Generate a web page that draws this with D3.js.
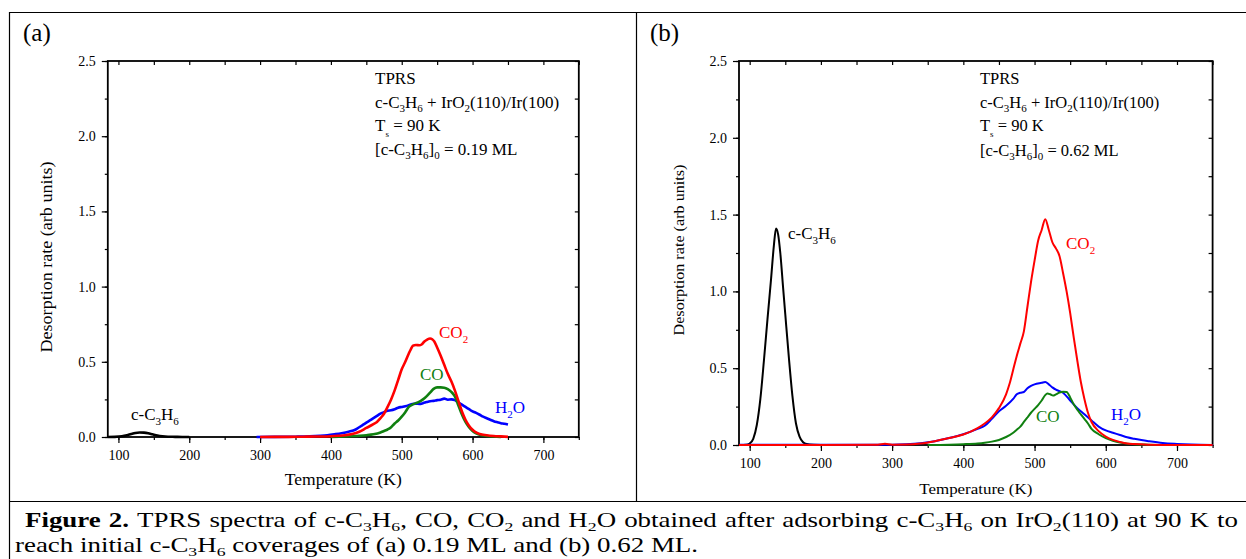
<!DOCTYPE html>
<html><head><meta charset="utf-8">
<script src="https://cdn.jsdelivr.net/npm/d3@7"></script>
<style>
body{margin:0;background:#fff;}
svg{display:block;}
text{font-family:"Liberation Serif","Times New Roman",serif;}
</style></head>
<body>
<svg id="c" width="1246" height="559"></svg>
<script>
// ---------------- DATA ----------------
const xTicksMajor = [100,200,300,400,500,600,700];
const xTicksMinor = [100,150,200,250,300,350,400,450,500,550,600,650,700,750];
const yTicksMajor = [0,0.5,1.0,1.5,2.0,2.5];
const yTicksMinor = [0,0.25,0.5,0.75,1.0,1.25,1.5,1.75,2.0,2.25,2.5];

// Panel (a): [T (K), rate]
const a_C3H6 = [[85,0],[95,0.001],[105,0.005],[112,0.012],[118,0.02],[124,0.027],[130,0.03],[136,0.029],[142,0.025],[148,0.018],[155,0.01],[162,0.005],[170,0.002],[180,0.001],[190,0],[200,0]];
const a_CO2 = [[300,0],[320,0.001],[340,0.001],[360,0.002],[380,0.003],[400,0.005],[410,0.008],[420,0.012],[430,0.02],[440,0.035],[450,0.06],[460,0.085],[465,0.1],[470,0.125],[475,0.155],[480,0.2],[485,0.25],[490,0.31],[495,0.38],[500,0.45],[505,0.5],[510,0.555],[513,0.585],[516,0.607],[520,0.612],[525,0.61],[528,0.615],[532,0.635],[536,0.648],[540,0.655],[543,0.65],[546,0.635],[550,0.595],[555,0.54],[560,0.48],[565,0.42],[570,0.37],[575,0.31],[580,0.24],[585,0.17],[590,0.115],[595,0.075],[600,0.048],[605,0.03],[610,0.02],[620,0.012],[630,0.007],[640,0.004],[650,0.001]];
const a_CO = [[400,0],[420,0.003],[440,0.008],[450,0.012],[460,0.018],[470,0.03],[475,0.04],[480,0.05],[485,0.065],[490,0.09],[495,0.11],[500,0.135],[505,0.165],[510,0.2],[515,0.215],[520,0.225],[525,0.235],[530,0.25],[535,0.27],[540,0.295],[545,0.32],[550,0.33],[555,0.33],[560,0.328],[565,0.318],[570,0.3],[575,0.27],[580,0.21],[585,0.15],[590,0.1],[595,0.065],[600,0.04],[605,0.025],[610,0.015],[620,0.007],[630,0.003],[640,0]];
const a_H2O = [[295,0],[320,0.001],[350,0.002],[370,0.004],[385,0.008],[395,0.012],[405,0.018],[415,0.025],[425,0.035],[435,0.05],[440,0.065],[445,0.08],[450,0.095],[455,0.11],[460,0.125],[465,0.14],[470,0.155],[475,0.165],[480,0.175],[485,0.178],[490,0.185],[495,0.195],[500,0.2],[505,0.205],[510,0.212],[515,0.22],[520,0.222],[525,0.22],[530,0.225],[535,0.232],[540,0.238],[545,0.24],[550,0.245],[555,0.248],[560,0.255],[565,0.248],[570,0.25],[575,0.245],[580,0.23],[585,0.215],[590,0.2],[595,0.185],[600,0.17],[605,0.16],[610,0.148],[615,0.135],[620,0.125],[625,0.115],[630,0.105],[635,0.098],[640,0.092],[645,0.088],[650,0.083]];

// Panel (b)
const b_C3H6 = [[85,0],[95,0.002],[100,0.01],[105,0.04],[110,0.13],[115,0.3],[120,0.55],[125,0.82],[130,1.08],[134,1.3],[137,1.41],[140,1.37],[143,1.25],[147,1.02],[150,0.85],[155,0.57],[160,0.32],[165,0.14],[170,0.055],[175,0.018],[180,0.006],[190,0.001],[200,0],[300,0]];
const b_CO2 = [[85,0],[200,0],[280,0.002],[290,0.008],[300,0.002],[320,0.003],[340,0.01],[360,0.025],[380,0.045],[400,0.068],[420,0.11],[430,0.14],[440,0.18],[450,0.24],[460,0.33],[465,0.4],[470,0.49],[475,0.58],[480,0.66],[485,0.74],[490,0.9],[495,1.06],[500,1.2],[505,1.33],[510,1.4],[515,1.47],[520,1.4],[525,1.32],[530,1.28],[535,1.23],[540,1.12],[545,1.0],[550,0.86],[555,0.7],[560,0.55],[565,0.41],[570,0.3],[575,0.21],[580,0.15],[590,0.09],[600,0.055],[610,0.033],[620,0.02],[630,0.01],[640,0.006],[660,0.002],[700,0],[750,0]];
const b_CO = [[350,0],[380,0.002],[400,0.005],[420,0.01],[430,0.015],[440,0.022],[450,0.033],[460,0.052],[470,0.08],[475,0.1],[480,0.12],[485,0.15],[490,0.18],[495,0.21],[500,0.235],[505,0.26],[510,0.29],[515,0.325],[518,0.335],[522,0.33],[526,0.322],[530,0.33],[535,0.342],[540,0.347],[545,0.345],[550,0.31],[555,0.265],[560,0.23],[565,0.2],[570,0.17],[575,0.14],[580,0.105],[590,0.07],[600,0.045],[610,0.028],[620,0.016],[630,0.009],[640,0.005],[660,0.002],[680,0]];
const b_H2O = [[85,0.002],[300,0.002],[320,0.005],[340,0.012],[360,0.025],[380,0.045],[400,0.07],[420,0.105],[430,0.125],[440,0.17],[450,0.22],[460,0.255],[470,0.3],[475,0.33],[480,0.34],[485,0.345],[490,0.37],[495,0.385],[500,0.395],[510,0.405],[515,0.41],[520,0.395],[525,0.375],[530,0.36],[540,0.34],[550,0.29],[560,0.24],[570,0.2],[580,0.16],[590,0.12],[600,0.095],[610,0.08],[620,0.065],[630,0.05],[640,0.04],[650,0.032],[660,0.025],[680,0.013],[700,0.007],[720,0.003],[750,0]];

// caption words ("**" = bold, "_x" = subscript)
const captionLine1 = ["**Figure","**2.","TPRS","spectra","of","c-C_3H_6,","CO,","CO_2","and","H_2O","obtained","after","adsorbing","c-C_3H_6","on","IrO_2(110)","at","90","K","to"];
const captionLine2 = ["reach","initial","c-C_3H_6","coverages","of","(a)","0.19","ML","and","(b)","0.62","ML."];

const seriesColors = {C3H6:"#000000", CO2:"#ff0000", CO:"#108010", H2O:"#0000ff"};
const SERIF = "'Liberation Serif','Times New Roman',serif";

// ---------------- DRAW ----------------
const svg = d3.select("#c");

const frame = svg.append("g").attr("stroke","#000").attr("stroke-width",1.2).attr("fill","none");
frame.append("line").attr("x1",9).attr("x2",1246).attr("y1",12.5).attr("y2",12.5);
frame.append("line").attr("x1",9.5).attr("x2",9.5).attr("y1",12).attr("y2",559);
frame.append("line").attr("x1",636.5).attr("x2",636.5).attr("y1",12).attr("y2",501);
frame.append("line").attr("x1",9).attr("x2",1246).attr("y1",501.5).attr("y2",501.5);

function rich(textSel, str, subSize, subDy){
  const segs=[]; let i=0, cur="";
  while(i<str.length){
    if(str[i]==="_"){ if(cur){segs.push({t:cur,s:false});cur="";} segs.push({t:str[i+1],s:true}); i+=2; }
    else { cur+=str[i]; i++; }
  }
  if(cur) segs.push({t:cur,s:false});
  let shifted=false;
  segs.forEach(sg=>{
    const ts=textSel.append("tspan").text(sg.t);
    if(sg.s){ ts.attr("font-size",subSize); if(!shifted){ts.attr("dy",subDy);shifted=true;} }
    else if(shifted){ ts.attr("dy",-subDy); shifted=false; }
  });
}

function panel(cfg){
  const g = svg.append("g");
  const x = d3.scaleLinear().domain([85,750]).range([cfg.left,cfg.right]);
  const y = d3.scaleLinear().domain([0,2.5]).range([cfg.bottom,cfg.top]);

  const styleAxis = sel => { sel.attr("font-family",SERIF); sel.select(".domain").remove(); sel.selectAll("line").attr("stroke","#000").attr("stroke-width",1.2);
    sel.selectAll("text").attr("fill","#000").attr("font-size",14).style("font-family",SERIF); };

  g.append("g").attr("transform",`translate(0,${cfg.bottom})`)
    .call(d3.axisBottom(x).tickValues(xTicksMinor).tickSize(3).tickFormat("")).call(styleAxis);
  g.append("g").attr("transform",`translate(0,${cfg.bottom})`)
    .call(d3.axisBottom(x).tickValues(xTicksMajor).tickSize(6).tickPadding(7).tickFormat(d3.format("d"))).call(styleAxis);
  g.append("g").attr("transform",`translate(${cfg.left},0)`)
    .call(d3.axisLeft(y).tickValues(yTicksMinor).tickSize(3).tickFormat("")).call(styleAxis);
  g.append("g").attr("transform",`translate(${cfg.left},0)`)
    .call(d3.axisLeft(y).tickValues(yTicksMajor).tickSize(6).tickPadding(6).tickFormat(d3.format(".1f"))).call(styleAxis);
  g.append("g").attr("transform",`translate(0,${cfg.top})`)
    .call(d3.axisTop(x).tickValues(xTicksMinor).tickSize(-4).tickFormat("")).call(styleAxis);
  g.append("g").attr("transform",`translate(${cfg.right},0)`)
    .call(d3.axisRight(y).tickValues(yTicksMinor).tickSize(-4).tickFormat("")).call(styleAxis);

  g.append("rect").attr("x",cfg.left).attr("y",cfg.top).attr("width",cfg.right-cfg.left).attr("height",cfg.bottom-cfg.top)
    .attr("fill","none").attr("stroke","#000").attr("stroke-width",1.8);

  const line = d3.line().x(d=>x(d[0])).y(d=>y(d[1])).curve(d3.curveMonotoneX);
  cfg.series.forEach(s=>{
    g.append("path").datum(s.data).attr("d",line).attr("fill","none")
      .attr("stroke",seriesColors[s.key]).attr("stroke-width",cfg.lw).attr("stroke-linejoin","round");
  });

  g.append("text").attr("x",cfg.letterX).attr("y",41).attr("font-size",25).text(cfg.letter);

  g.append("text").attr("x",(cfg.left+cfg.right)/2).attr("y",cfg.xTitleY).attr("text-anchor","middle")
    .attr("font-size",cfg.titleSize).attr("textLength",cfg.xTitleLen).attr("lengthAdjust","spacingAndGlyphs").text("Temperature (K)");
  g.append("text").attr("transform",`translate(${cfg.yTitleX},${cfg.yTitleY}) rotate(-90)`).attr("text-anchor","middle")
    .attr("font-size",cfg.titleSize).attr("textLength",cfg.yTitleLen).attr("lengthAdjust","spacingAndGlyphs").text("Desorption rate (arb units)");

  cfg.info.forEach((ln,i)=>{
    const t=g.append("text").attr("x",cfg.infoX).attr("y",cfg.infoY[i]).attr("font-size",cfg.infoSize);
    rich(t, ln, ln.startsWith("T_")?9:11, ln.startsWith("T_")?6:4);
  });

  cfg.labels.forEach(l=>{
    const t=g.append("text").attr("x",l.x).attr("y",l.y).attr("font-size",17).attr("fill",seriesColors[l.key]);
    rich(t, l.text, 11, 5);
  });
}

panel({
  left:107.8, right:578.8, top:61, bottom:437, lw:2.6, letter:"(a)", letterX:23,
  xTitleY:485, xTitleLen:117, yTitleX:52, yTitleY:257, yTitleLen:191, titleSize:17.5,
  infoX:375, infoY:[84,107.5,131,155], infoSize:17,
  info:["TPRS","c-C_3H_6 + IrO_2(110)/Ir(100)","T_s = 90 K","[c-C_3H_6]_0 = 0.19 ML"],
  series:[{key:"C3H6",data:a_C3H6},{key:"H2O",data:a_H2O},{key:"CO",data:a_CO},{key:"CO2",data:a_CO2}],
  labels:[{key:"CO2",text:"CO_2",x:439,y:338},{key:"CO",text:"CO",x:420,y:380},{key:"H2O",text:"H_2O",x:495,y:413},{key:"C3H6",text:"c-C_3H_6",x:131,y:420}]
});
panel({
  left:739, right:1212.6, top:61, bottom:445, lw:2.0, letter:"(b)", letterX:650,
  xTitleY:494, xTitleLen:113, yTitleX:684, yTitleY:250, yTitleLen:171, titleSize:15.5,
  infoX:980, infoY:[84,107.5,131,156], infoSize:16.5,
  info:["TPRS","c-C_3H_6 + IrO_2(110)/Ir(100)","T_s = 90 K","[c-C_3H_6]_0 = 0.62 ML"],
  series:[{key:"C3H6",data:b_C3H6},{key:"H2O",data:b_H2O},{key:"CO",data:b_CO},{key:"CO2",data:b_CO2}],
  labels:[{key:"C3H6",text:"c-C_3H_6",x:788,y:239},{key:"CO2",text:"CO_2",x:1066,y:249},{key:"CO",text:"CO",x:1036,y:422},{key:"H2O",text:"H_2O",x:1111,y:420}]
});

// ---------------- CAPTION ----------------
const CAP_SIZE = 20.5;
function wordsGroup(words){
  const g = svg.append("g");
  const items = words.map(w=>{
    const bold = w.startsWith("**");
    const t = g.append("text").attr("x",0).attr("y",0).attr("font-size",CAP_SIZE).attr("font-weight",bold?"bold":"normal");
    rich(t, bold?w.slice(2):w, 13.5, 3.5);
    return {t, w:t.node().getComputedTextLength()};
  });
  return {g, items};
}
const L1 = wordsGroup(captionLine1);
const L2 = wordsGroup(captionLine2);
const space = CAP_SIZE*0.25;
const w2 = d3.sum(L2.items,d=>d.w) + space*(L2.items.length-1);
const sx = 683 / w2;
let cx = 0;
L2.items.forEach(it=>{ it.t.attr("x",cx); cx += it.w + space; });
L2.g.attr("transform",`translate(15,552) scale(${sx},1)`);
const target1 = 1213 / sx;
const sum1 = d3.sum(L1.items,d=>d.w);
const gap1 = Math.max(space*0.7, (target1 - sum1)/(L1.items.length-1));
cx = 0;
L1.items.forEach(it=>{ it.t.attr("x",cx); cx += it.w + gap1; });
L1.g.attr("transform",`translate(25,527) scale(${sx},1)`);
</script>
</body></html>
